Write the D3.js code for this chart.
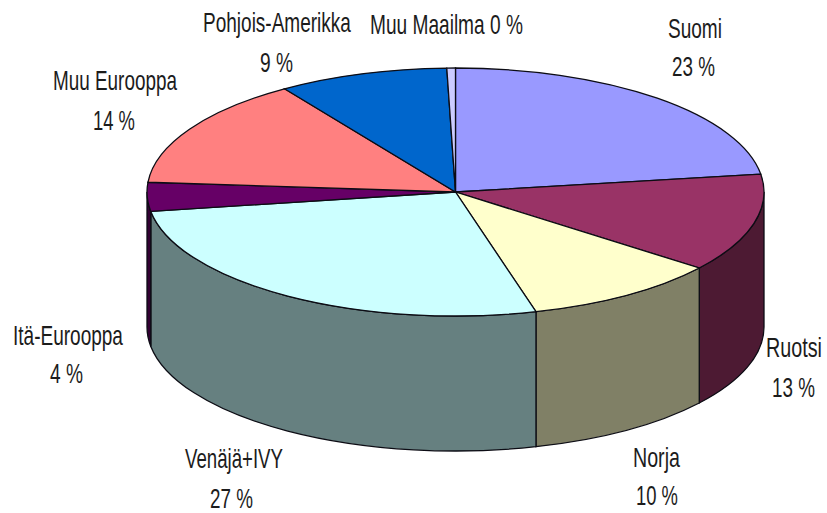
<!DOCTYPE html>
<html>
<head>
<meta charset="utf-8">
<style>
    html, body { margin: 0; padding: 0; background: #fff; }
    svg { display: block; }
    text { font-family: "Liberation Sans", Arial, sans-serif; font-size: 28.5px; fill: #1c1c1c; }
</style>
<script src="https://cdnjs.cloudflare.com/ajax/libs/d3/7.8.5/d3.min.js"></script>
</head>
<body>
<div class="chart"></div>
<script>
var categories = ['Suomi', 'Ruotsi', 'Norja', 'Venäjä+IVY', 'Itä-Eurooppa', 'Muu Eurooppa', 'Pohjois-Amerikka', 'Muu Maailma'];
var shares = [22.7, 12.8, 10.3, 26.7, 3.75, 14.4, 8.9, 0.45];
var shareLabels = ['23 %', '13 %', '10 %', '27 %', '4 %', '14 %', '9 %', '0 %'];
var topColors = ['#9999FF', '#993366', '#FFFFCC', '#CCFFFF', '#660066', '#FF8080', '#0066CC', '#CCCCFF'];
var wallColors = ['#4d4d80', '#4d1a33', '#808066', '#668080', '#330033', '#804040', '#003366', '#666680'];

// [left, right, baseline] of each text line
var nameBoxes = [[668, 722, 38], [766, 822, 357], [633, 680, 467], [185, 283, 468], [13, 123, 345], [53, 177, 90], [203, 351, 32]];
var shareBoxes = [[672, 715, 76], [772, 815, 397], [636, 678, 505], [210, 253, 508], [50, 83, 383], [93, 135, 130], [260, 293, 72]];
var singleLine = { text: 'Muu Maailma 0 %', box: [370, 523, 34] };

var width = 827;
var height = 513;
var cx = 455.5;
var cy = 192;
var rx = 308.5;
var ry = 124;
var depth = 135;

var x = d3.scaleLinear().domain([-1, 1]).range([cx - rx, cx + rx]);
var y = d3.scaleLinear().domain([-1, 1]).range([cy - ry, cy + ry]);

function px(a) { return x(Math.sin(a)); }
function py(a) { return y(-Math.cos(a)); }

var svg = d3.select('.chart')
    .append('svg')
    .attr('width', width)
    .attr('height', height);

var slices = d3.pie().value(function (d) { return d; }).sort(null)(shares);

// side walls, only the front half of the cylinder shows
function wallPath(d) {
    var a0 = Math.max(d.startAngle, Math.PI / 2);
    var a1 = Math.min(d.endAngle, Math.PI * 1.5);
    if (a1 <= a0) return null;
    var arcTo = ' A' + rx + ',' + ry + ' 0 0 ';
    return 'M' + px(a0) + ',' + py(a0) +
        arcTo + '1 ' + px(a1) + ',' + py(a1) +
        ' L' + px(a1) + ',' + (py(a1) + depth) +
        arcTo + '0 ' + px(a0) + ',' + (py(a0) + depth) + ' Z';
}

svg.append('g')
    .selectAll('path')
    .data(slices.filter(wallPath))
    .enter()
    .append('path')
    .attr('d', wallPath)
    .attr('fill', function (d) { return wallColors[d.index]; })
    .attr('stroke', '#0c0c14')
    .attr('stroke-width', 1.3);

// top face: a circle arc squashed into the ellipse
var arc = d3.arc().innerRadius(0).outerRadius(rx);

svg.append('g')
    .attr('transform', 'translate(' + cx + ',' + cy + ') scale(1,' + (ry / rx) + ')')
    .selectAll('path')
    .data(slices)
    .enter()
    .append('path')
    .attr('d', arc)
    .attr('fill', function (d) { return topColors[d.index]; })
    .attr('stroke', '#0c0c14')
    .attr('stroke-width', 1.3)
    .attr('vector-effect', 'non-scaling-stroke');

// the labels in the picture are squeezed sideways, so scale each one to its box
function addLabel(text, box) {
    var label = svg.append('text').text(text);
    var sx = (box[1] - box[0]) / label.node().getComputedTextLength();
    label.attr('transform', 'translate(' + box[0] + ',' + box[2] + ') scale(' + sx + ',1)');
}

nameBoxes.forEach(function (box, i) {
    addLabel(categories[i], box);
    addLabel(shareLabels[i], shareBoxes[i]);
});
addLabel(singleLine.text, singleLine.box);
</script>
</body>
</html>
